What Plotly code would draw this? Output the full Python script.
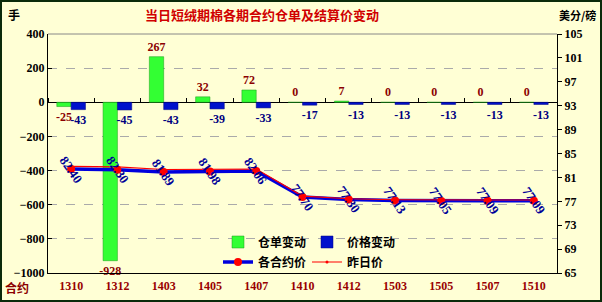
import plotly.graph_objects as go

categories = ["1310", "1312", "1403", "1405", "1407", "1410", "1412", "1503", "1505", "1507", "1510"]
warrant_change = [-25, -928, 267, 32, 72, 0, 7, 0, 0, 0, 0]
price_change = [-43, -45, -43, -39, -33, -17, -13, -13, -13, -13, -13]
price_today = [82.40, 82.30, 81.89, 81.98, 82.06, 77.70, 77.30, 77.13, 77.05, 77.09, 77.09]
price_yesterday = [82.83, 82.75, 82.32, 82.37, 82.39, 77.87, 77.43, 77.26, 77.18, 77.22, 77.22]
price_labels = ["82.40", "82.30", "81.89", "81.98", "82.06", "77.70", "77.30", "77.13", "77.05", "77.09", "77.09"]

W, H = 602, 302
ML, MR, MT, MB = 48, 45, 34, 29
BG = "#FFFFD5"
FONT = "Liberation Serif"
CJK = "Noto Sans CJK SC"
Y_RANGE = [-1000, 400]

fig = go.Figure()
fig.add_trace(go.Bar(
    x=categories, y=warrant_change, name="仓单变动", legend="legend",
    marker=dict(color="#33FF33", line=dict(color="#1a9a1a", width=0.5)),
    text=[str(v) for v in warrant_change], textposition="outside", constraintext="none",
    textfont=dict(color="#8B0000", size=12, family=FONT, weight="bold"), cliponaxis=False,
    yaxis="y",
))
fig.add_trace(go.Bar(
    x=categories, y=price_change, name="价格变动", legend="legend",
    marker=dict(color="#0010CC", line=dict(color="#000080", width=0.5)),
    text=[str(v) for v in price_change], textposition="outside", constraintext="none",
    textfont=dict(color="#000080", size=12, family=FONT, weight="bold"), cliponaxis=False,
    yaxis="y",
))
fig.add_trace(go.Scatter(
    x=categories, y=price_today, name="各合约价", mode="lines+markers", legend="legend2",
    line=dict(color="#0000DD", width=3.5), marker=dict(color="#FF0000", size=8),
    yaxis="y2",
))
fig.add_trace(go.Scatter(
    x=categories, y=price_yesterday, name="昨日价", mode="lines+markers", legend="legend2",
    line=dict(color="#FF0000", width=1.2), marker=dict(color="#FF0000", size=3),
    xaxis="x2", yaxis="y2",
))

annotations = []
for i, (v, t) in enumerate(zip(price_today, price_labels)):
    annotations.append(dict(
        x=i, y=v, xref="x", yref="y2", text="<b>" + t + "</b>", showarrow=False,
        textangle=55, font=dict(color="#000099", size=13, family=FONT),
    ))

pw, ph = W - ML - MR, H - MT - MB
def px(xp, yp):
    return (xp - ML) / pw, (H - MB - yp) / ph

ann_px = [
    ("<b>当日短绒期棉各期合约仓单及结算价变动</b>", 262, 15, "#D00000", 13),
    ("<b>手</b>", 14, 15, "#000000", 12),
    ("<b>美分/磅</b>", 577, 15, "#000000", 11),
    ("<b>合约</b>", 17, 287, "#8B0000", 12),
]
for t, xp, yp, col, sz in ann_px:
    xx, yy = px(xp, yp)
    annotations.append(dict(text=t, x=xx, y=yy, xref="paper", yref="paper", showarrow=False,
                            xanchor="center", yanchor="middle",
                            font=dict(color=col, size=sz, family=CJK)))

x0, y0 = px(1, 1)
x1, y1 = px(W - 1, H - 1)
shapes = [
    dict(type="rect", xref="paper", yref="paper", x0=x0, y0=y1, x1=x1, y1=y0,
         line=dict(color="#0a2a0a", width=2), layer="below"),
    dict(type="line", xref="paper", yref="paper", x0=0, x1=1, y0=1, y1=1,
         line=dict(color="#888888", width=1)),
]

lx, ly1 = px(218, 242)
_, ly2 = px(218, 262)
legfont = dict(size=12, family=CJK, color="#000000", weight="bold")
zero_pos = (0 - Y_RANGE[0]) / (Y_RANGE[1] - Y_RANGE[0])
fig.update_layout(
    width=W, height=H, margin=dict(l=ML, r=MR, t=MT, b=MB),
    paper_bgcolor=BG, plot_bgcolor=BG,
    barmode="group", bargap=0.38, bargroupgap=0.0,
    showlegend=True,
    legend=dict(orientation="h", x=lx, y=ly1, xanchor="left", yanchor="middle",
                bgcolor="rgba(0,0,0,0)", entrywidth=44, traceorder="normal",
                font=legfont, itemwidth=30),
    legend2=dict(orientation="h", x=lx, y=ly2, xanchor="left", yanchor="middle",
                 bgcolor="rgba(0,0,0,0)", entrywidth=44, traceorder="normal",
                 font=legfont, itemwidth=30),
    xaxis=dict(type="category", range=[-0.5, len(categories) - 0.5], showgrid=False, ticks="",
               showline=True, linecolor="#000000", linewidth=1, mirror=False, automargin=False,
               ticklabelstandoff=2,
               tickfont=dict(color="#990000", size=12, family=FONT, weight="bold")),
    xaxis2=dict(type="category", range=[-0.5, len(categories) - 0.5], overlaying="x",
                anchor="free", position=zero_pos, side="top", showgrid=False,
                showline=False, ticks="outside", tickson="boundaries", ticklen=4, tickwidth=1,
                tickcolor="#000000", showticklabels=False, automargin=False),
    yaxis=dict(range=Y_RANGE, dtick=200, showgrid=True, gridcolor="#AAAAAA", griddash="dash",
               gridwidth=1, zeroline=True, zerolinecolor="#000000", zerolinewidth=1,
               showline=True, linecolor="#000000", linewidth=1, ticks="inside", ticklen=4,
               tickcolor="#000000", automargin=False,
               tickfont=dict(color="#000000", size=12, family=FONT, weight="bold")),
    yaxis2=dict(range=[65, 105], tick0=65, dtick=4, overlaying="y", side="right", showgrid=False,
                zeroline=False, showline=True, linecolor="#000000", linewidth=1,
                ticks="outside", ticklen=4, tickcolor="#000000", automargin=False,
                tickfont=dict(color="#000000", size=12, family=FONT, weight="bold")),
    annotations=annotations,
    shapes=shapes,
)

fig.write_html("out.html")
